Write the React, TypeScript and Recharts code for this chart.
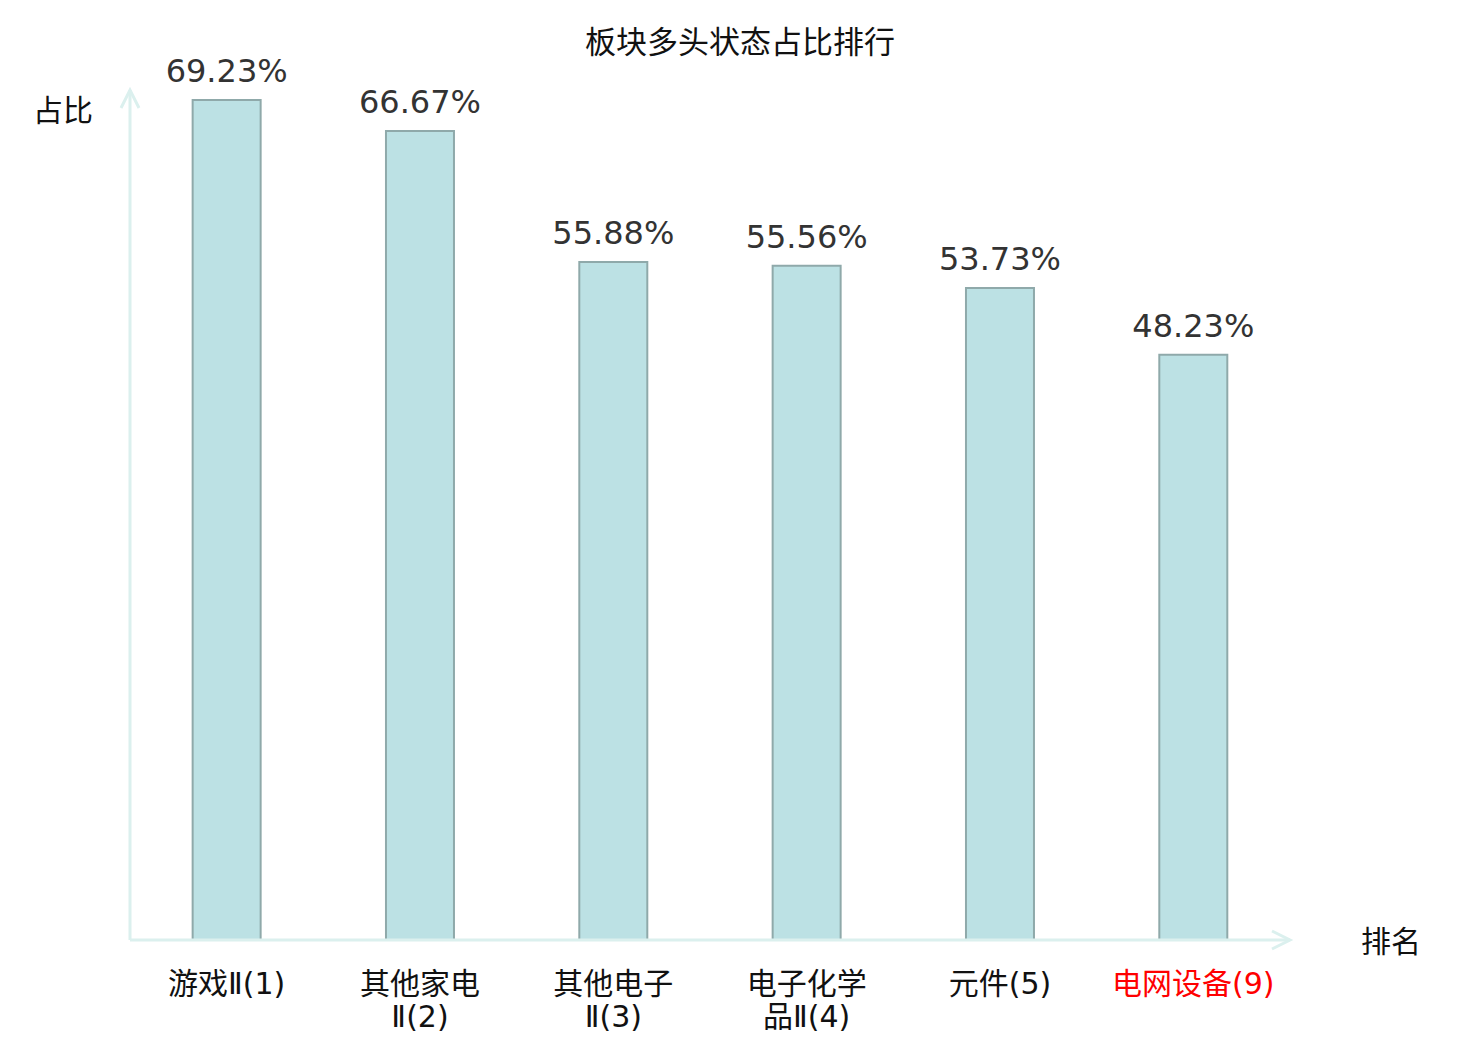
import { BarChart, Bar, XAxis, YAxis, LabelList } from "recharts";

const sectors = ["游戏Ⅱ", "其他家电Ⅱ", "其他电子Ⅱ", "电子化学品Ⅱ", "元件", "电网设备"];
const ranks = [1, 2, 3, 4, 5, 9];
const ratios = [69.23, 66.67, 55.88, 55.56, 53.73, 48.23];
const highlighted = ["电网设备"];

const data = sectors.map((name, i) => ({
  label: `${name}(${ranks[i]})`,
  name,
  ratio: ratios[i],
}));

const W = 1480;
const H = 1040;
const M = { top: 100, right: 190, bottom: 70, left: 130 };
const AXIS = "#dbf0ee";
const FONT = '"DejaVu Sans", "Noto Sans CJK SC", sans-serif';

// splits long labels into two lines like the original
function Tick(props: any) {
  const { x, y, payload, index } = props;
  const text: string = payload.value;
  const lines = text.length > 7 ? [text.slice(0, 4), text.slice(4)] : [text];
  const color = highlighted.includes(data[index]?.name) ? "#ff0000" : "#111";
  return (
    <text x={x} y={y + 46} textAnchor="middle" fill={color} fontSize={30} fontFamily={FONT}>
      {lines.map((l, i) => (
        <tspan key={i} x={x} dy={i === 0 ? 0 : 33}>
          {l}
        </tspan>
      ))}
    </text>
  );
}

export default function App() {
  const x0 = M.left;
  const y0 = 940;
  const x1 = W - M.right;
  return (
    <div style={{ position: "absolute", left: 0, top: 0, width: W, height: H, background: "#fff", fontFamily: FONT }}>
      <BarChart width={W} height={H} data={data} margin={M} barCategoryGap="32.4%">
        <XAxis
          dataKey="label"
          axisLine={false}
          tickLine={false}
          interval={0}
          height={30}
          tick={<Tick />}
        />
        <YAxis hide type="number" domain={[0, 69.23]} width={0} />
        <Bar dataKey="ratio" fill="#bce1e4" stroke="#8fa9aa" strokeWidth={2} isAnimationActive={false}>
          <LabelList
            dataKey="ratio"
            position="top"
            offset={18}
            formatter={(v: any) => `${Number(v).toFixed(2)}%`}
            style={{ fill: "#333", fontSize: 32, fontFamily: FONT }}
          />
        </Bar>
      </BarChart>

      {/* axes with arrows, title and axis names */}
      <svg width={W} height={H} style={{ position: "absolute", left: 0, top: 0, pointerEvents: "none" }}>
        <line x1={x0} y1={y0} x2={x1} y2={y0} stroke={AXIS} strokeWidth={3} />
        <line x1={x0} y1={y0} x2={x0} y2={90} stroke={AXIS} strokeWidth={3} />
        <polyline points={`${x0 - 9},${108} ${x0},${90} ${x0 + 9},${108}`} fill="none" stroke={AXIS} strokeWidth={3} />
        <polyline points={`${x1 - 18},${y0 - 9} ${x1},${y0} ${x1 - 18},${y0 + 9}`} fill="none" stroke={AXIS} strokeWidth={3} />
        <text x={740} y={53} textAnchor="middle" fontSize={31} fill="#111" fontFamily={FONT}>
          板块多头状态占比排行
        </text>
        <text x={33} y={121} fontSize={30} fill="#111" fontFamily={FONT}>
          占比
        </text>
        <text x={1361} y={952} fontSize={30} fill="#111" fontFamily={FONT}>
          排名
        </text>
      </svg>
    </div>
  );
}
